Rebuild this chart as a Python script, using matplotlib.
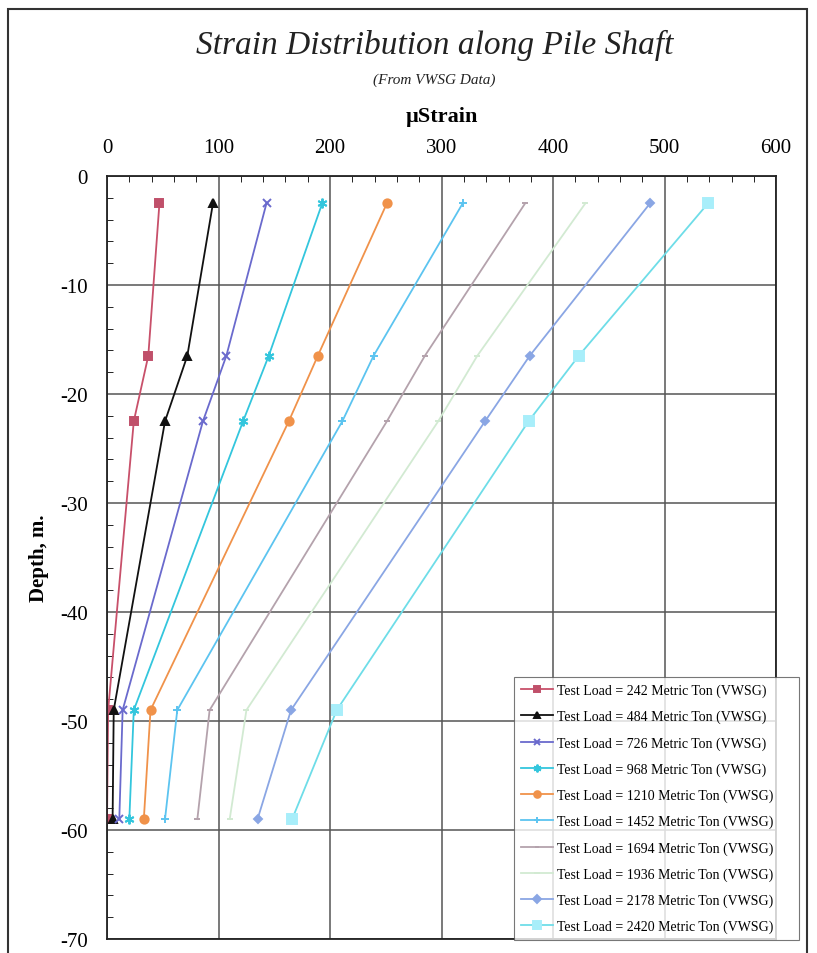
import numpy as np
import matplotlib
matplotlib.use("Agg")
import matplotlib.pyplot as plt
from matplotlib.patches import Rectangle
from matplotlib.ticker import MultipleLocator

plt.rcParams['font.family'] = ['Liberation Serif', 'DejaVu Serif']
plt.rcParams['axes.unicode_minus'] = False

# gauge depths (m)
depth = [-2.5, -16.5, -22.5, -49, -59]

# test loads (metric ton)
loads = [242, 484, 726, 968, 1210, 1452, 1694, 1936, 2178, 2420]

# micro strain at each depth, one list per load
strain_242 = [47, 37, 24, 1, 0]
strain_484 = [95, 72, 52, 6, 5]
strain_726 = [143, 107, 86, 14, 11]
strain_968 = [193, 145, 122, 24, 20]
strain_1210 = [251, 189, 163, 39, 33]
strain_1452 = [319, 239, 211, 63, 52]
strain_1694 = [375, 285, 251, 92, 81]
strain_1936 = [429, 332, 297, 125, 110]
strain_2178 = [487, 379, 339, 165, 135]
strain_2420 = [539, 423, 378, 206, 166]

series = [strain_242, strain_484, strain_726, strain_968, strain_1210,
          strain_1452, strain_1694, strain_1936, strain_2178, strain_2420]

# line colour, marker colour, marker, marker size
styles = [
    ("#C8506A", "#C0506A", "s", 6),
    ("#111111", "#111111", "^", 6),
    ("#6A6ACD", "#6A6ACD", "x", 6),
    ("#33C6DD", "#33C6DD", (6, 2, 0), 7),
    ("#F0924A", "#F0924A", "o", 6),
    ("#5CC4F0", "#5CC4F0", "+", 6),
    ("#B4A2AC", "#B4A2AC", "_", 4),
    ("#D2EAD2", "#D2EAD2", "_", 5),
    ("#8AA6E4", "#8AA6E4", "D", 4.5),
    ("#6EDDE8", "#A8EEFA", "s", 7),
]

fig = plt.figure(figsize=(8.17, 9.54), dpi=100)
ax = fig.add_axes([0.131, 0.0147, 0.819, 0.7998])

for load, vals, (lc, mc, mk, ms) in zip(loads, series, styles):
    ax.plot(vals, depth, color=lc, lw=1.3, marker=mk, markersize=ms,
            markerfacecolor=mc, markeredgecolor=mc, markeredgewidth=1.4,
            label="Test Load = %d Metric Ton (VWSG)" % load)

ax.set_xlim(0, 600)
ax.set_ylim(-70, 0)
ax.xaxis.set_major_locator(MultipleLocator(100))
ax.xaxis.set_minor_locator(MultipleLocator(20))
ax.yaxis.set_major_locator(MultipleLocator(10))
ax.yaxis.set_minor_locator(MultipleLocator(2))
ax.xaxis.tick_top()
ax.xaxis.set_label_position("top")
ax.tick_params(axis="both", which="major", labelsize=15, length=0, pad=14)
ax.tick_params(axis="x", which="minor", direction="in", length=4, top=True, bottom=False)
ax.tick_params(axis="y", which="minor", direction="in", length=4, left=True, right=False)
ax.grid(True, which="major", color="#555555", lw=1.1)
for s in ax.spines.values():
    s.set_linewidth(1.3)
    s.set_color("#222222")

ax.set_xlabel("\u00b5Strain", fontsize=16, fontweight="bold", labelpad=12)
ax.set_ylabel("Depth, m.", fontsize=15, fontweight="bold", labelpad=8)

fig.text(0.532, 0.952, "Strain Distribution along Pile Shaft", fontsize=24,
         style="italic", ha="center", va="center", color="#222222")
fig.text(0.532, 0.916, "(From VWSG Data)", fontsize=11, style="italic",
         ha="center", va="center", color="#222222")

leg = fig.legend(loc="lower left", bbox_to_anchor=(0.621, 0.006, 0.366, 0.281),
                 mode="expand", fontsize=10, frameon=True, fancybox=False,
                 handlelength=2.3, handletextpad=0.3, labelspacing=0.92,
                 borderpad=0.5, markerscale=0.8)
leg.get_frame().set_edgecolor("#555555")
leg.get_frame().set_linewidth(0.8)

# outer frame round the whole chart
fig.patches.append(Rectangle((0.01, -0.01), 0.978, 1.0, transform=fig.transFigure,
                             fill=False, edgecolor="#333333", lw=1.5))

fig.savefig("out.png", dpi=100)
